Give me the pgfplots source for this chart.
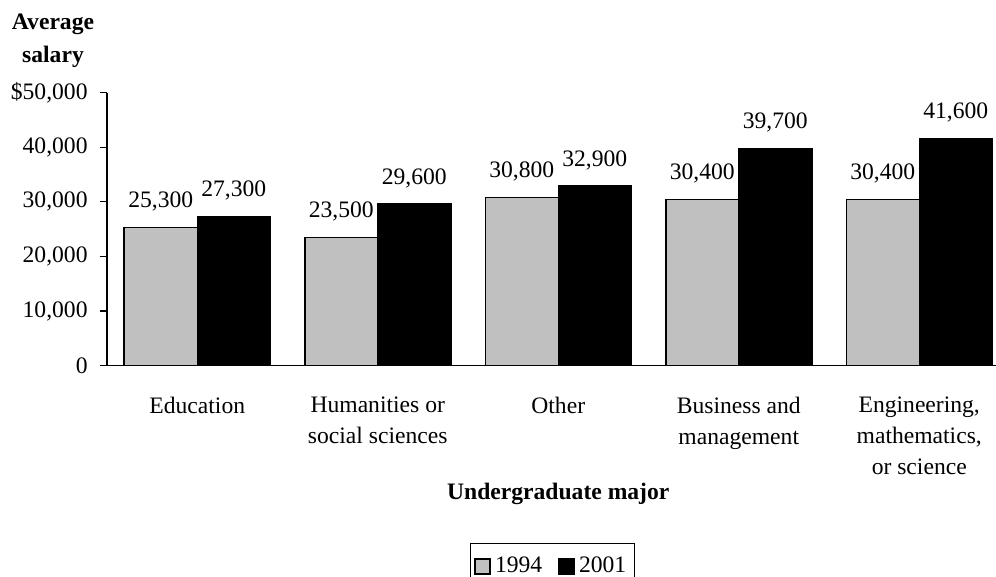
\documentclass[border=0pt]{standalone}
\usepackage{pgfplots}
\pgfplotsset{compat=1.18}
\usepackage{fontspec}
\setmainfont{Liberation Serif}
\definecolor{barGray}{HTML}{C0C0C0}
\newcommand\chartfont{\fontsize{11.8pt}{15.5pt}\selectfont}

\begin{document}
\begin{tikzpicture}
\path[use as bounding box] (0,0) rectangle (498pt,288.5pt);
\begin{axis}[
  at={(53.5pt,105.65pt)}, anchor=south west,
  scale only axis, width=451.25pt, height=136.5pt,
  ybar=0pt, bar width=36.5pt,
  xmin=-0.5, xmax=4.5, ymin=0, ymax=50000,
  axis x line*=bottom, axis y line*=left,
  axis line style={line width=0.6pt},
  tick align=outside, major tick length=3.5pt,
  xtick=data,
  xticklabels={Education, {Humanities or\\social sciences}, Other, {Business and\\management}, {Engineering,\\mathematics,\\or science}},
  xtick style={draw=none},
  xticklabel style={align=center, inner sep=0pt, anchor=north, yshift=-12pt, font=\chartfont},
  ytick={0,10000,20000,30000,40000,50000},
  yticklabels={0,{10,000},{20,000},{30,000},{40,000},{\$50,000}},
  scaled y ticks=false,
  ytick style={line width=0.6pt, black},
  yticklabel style={inner sep=0pt, anchor=east, xshift=-6pt, font=\chartfont},
  xlabel={Undergraduate major},
  xlabel style={at={(axis description cs:0.5,0)}, anchor=base, inner sep=0pt, yshift=-67pt, font=\chartfont\bfseries},
  ylabel={Average\\salary},
  ylabel style={rotate=-90, at={(axis description cs:0,1)}, anchor=south, align=center, inner sep=0pt, xshift=-27pt, yshift=12.3pt, font=\fontsize{11.8pt}{16.5pt}\selectfont\bfseries},
  /pgf/number format/.cd, 1000 sep={,}, assume math mode=true, /pgfplots/.cd,
  nodes near coords,
  every node near coord/.append style={inner sep=0pt, anchor=south, yshift=7.8pt, font=\chartfont, black},
  legend columns=2,
  legend style={at={(axis description cs:0.5,0)}, anchor=north, xshift=-3pt, yshift=-88.5pt, draw=black, line width=0.6pt, font=\chartfont,
    inner xsep=2pt, inner ysep=5pt,
    /tikz/every even column/.append style={column sep=6pt}},
]
\addplot[fill=barGray, draw=black, line width=0.75pt,
  legend image code/.code={\draw[fill=barGray, draw=black, line width=0.9pt] (0pt,-3.75pt) rectangle (7.5pt,3.75pt);}]
  coordinates {(0,25300) (1,23500) (2,30800) (3,30400) (4,30400)};
\addplot[fill=black, draw=black, line width=0.75pt,
  legend image code/.code={\draw[fill=black, draw=black, line width=0.9pt] (0pt,-3.75pt) rectangle (7.5pt,3.75pt);}]
  coordinates {(0,27300) (1,29600) (2,32900) (3,39700) (4,41600)};
\legend{1994,2001}
\end{axis}
\end{tikzpicture}
\end{document}
